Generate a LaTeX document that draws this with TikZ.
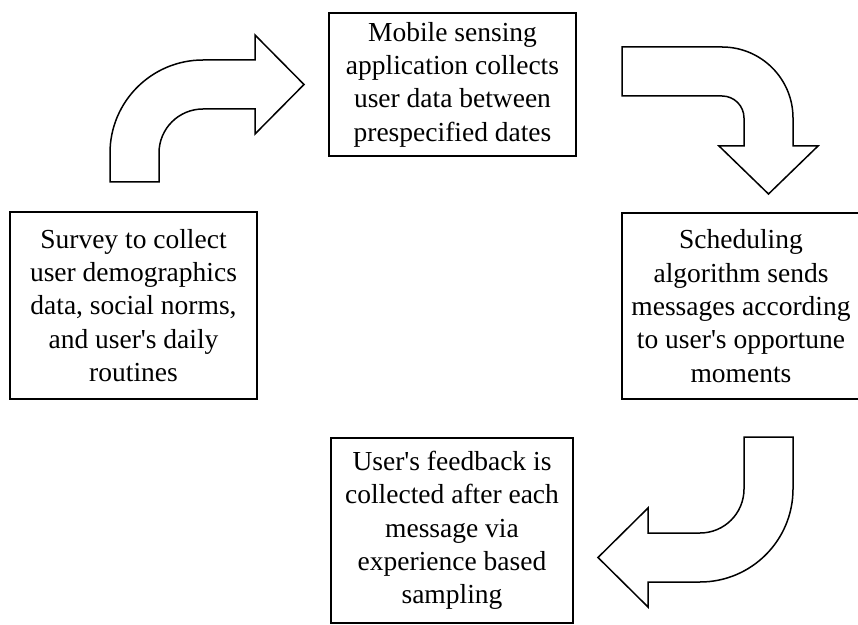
\documentclass[tikz,border=0pt]{standalone}
\usepackage{fontspec}
\setmainfont{Liberation Serif}
\newcommand{\apos}{\textquotesingle}
\begin{document}
\begin{tikzpicture}[x=1pt,y=1pt,
  stage/.style={draw=black, line width=1.5pt, rectangle, inner sep=0pt,
    align=center, font=\fontsize{27.5pt}{33.3pt}\selectfont},
  bentarrow/.style={draw=black, line width=1.5pt, fill=white, line join=miter}]
\useasboundingbox (0,0) rectangle (858,624);

% process stages
\node[stage, minimum width=247pt, minimum height=143pt] (collect) at (452.5,539.5)
  {Mobile sensing\\application collects\\user data between\\prespecified dates};
\node[stage, minimum width=238pt, minimum height=186pt] (schedule) at (741,318)
  {Scheduling\\algorithm sends\\messages according\\to user\apos s opportune\\moments};
\node[stage, minimum width=242pt, minimum height=185pt] (feedback) at (452,93.5)
  {User\apos s feedback is\\collected after each\\message via\\experience based\\sampling};
\node[stage, minimum width=247pt, minimum height=187pt] (survey) at (133.5,318.5)
  {Survey to collect\\user demographics\\data, social norms,\\and user\apos s daily\\routines};

% bent block arrow: survey -> collection
\draw[bentarrow] (110,442) -- (110,471) arc[start angle=180, end angle=90, radius=93pt]
  -- (255,564) -- (255,589) -- (304,539.5) -- (255,490) -- (255,515) -- (203,515)
  arc[start angle=90, end angle=180, radius=44pt] -- (159,442) -- cycle;

% bent block arrow: collection -> scheduling
\draw[bentarrow] (622,577) -- (722,577) arc[start angle=90, end angle=0, radius=71pt]
  -- (793,478) -- (818,478) -- (768.5,430) -- (719,478) -- (744,478) -- (744,506)
  arc[start angle=0, end angle=90, radius=22pt] -- (622,528) -- cycle;

% bent block arrow: scheduling -> feedback
\draw[bentarrow] (744,187) -- (793,187) -- (793,135)
  arc[start angle=0, end angle=-90, radius=93pt] -- (648,42) -- (648,17) -- (598,66.5)
  -- (648,116) -- (648,91) -- (700,91) arc[start angle=-90, end angle=0, radius=44pt]
  -- cycle;
\end{tikzpicture}
\end{document}
